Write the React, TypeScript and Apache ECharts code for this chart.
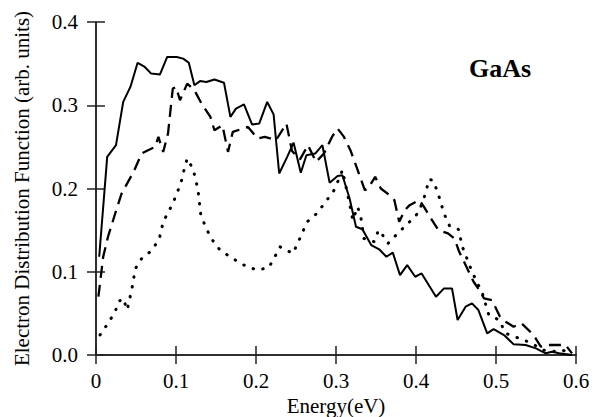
import React, { useEffect, useRef } from "react";
import * as echarts from "echarts";

const xTicks = [0, 0.1, 0.2, 0.3, 0.4, 0.5, 0.6];
const yTicks = [0, 0.1, 0.2, 0.3, 0.4];

const solidData: [number, number][] = [
  [0.004, 0.118], [0.014, 0.238], [0.025, 0.252], [0.034, 0.304], [0.043, 0.322], [0.052, 0.351],
  [0.061, 0.346], [0.069, 0.338], [0.08, 0.337], [0.089, 0.358], [0.101, 0.358], [0.109, 0.356],
  [0.116, 0.351], [0.123, 0.324], [0.13, 0.329], [0.138, 0.328], [0.148, 0.331], [0.16, 0.327],
  [0.168, 0.286], [0.175, 0.296], [0.185, 0.301], [0.195, 0.277], [0.204, 0.278], [0.214, 0.304],
  [0.222, 0.289], [0.229, 0.218], [0.239, 0.238], [0.247, 0.255], [0.256, 0.219], [0.263, 0.24],
  [0.274, 0.242], [0.283, 0.252], [0.292, 0.207], [0.302, 0.215], [0.308, 0.216], [0.317, 0.188],
  [0.325, 0.154], [0.333, 0.151], [0.344, 0.132], [0.354, 0.127], [0.363, 0.118], [0.371, 0.123],
  [0.38, 0.096], [0.389, 0.108], [0.399, 0.094], [0.407, 0.098], [0.425, 0.07], [0.435, 0.08],
  [0.445, 0.08], [0.452, 0.042], [0.462, 0.058], [0.47, 0.062], [0.478, 0.054], [0.489, 0.026],
  [0.497, 0.031], [0.51, 0.024], [0.522, 0.013], [0.537, 0.012], [0.55, 0.008], [0.562, 0.002],
  [0.57, 0.004], [0.579, 0.002], [0.595, 0.0],
];

const dashedData: [number, number][] = [
  [0.003, 0.07], [0.009, 0.118], [0.015, 0.142], [0.024, 0.17], [0.032, 0.194], [0.047, 0.22],
  [0.057, 0.242], [0.065, 0.246], [0.074, 0.25], [0.078, 0.262], [0.084, 0.244], [0.09, 0.266],
  [0.096, 0.32], [0.1, 0.322], [0.105, 0.306], [0.114, 0.326], [0.123, 0.318], [0.132, 0.302],
  [0.143, 0.286], [0.148, 0.27], [0.158, 0.276], [0.165, 0.244], [0.171, 0.268], [0.19, 0.274],
  [0.202, 0.26], [0.211, 0.262], [0.225, 0.258], [0.238, 0.278], [0.245, 0.245], [0.255, 0.235],
  [0.265, 0.252], [0.275, 0.232], [0.285, 0.242], [0.295, 0.262], [0.302, 0.272], [0.31, 0.262],
  [0.318, 0.246], [0.326, 0.225], [0.336, 0.198], [0.34, 0.2], [0.349, 0.214], [0.356, 0.2],
  [0.367, 0.192], [0.373, 0.186], [0.379, 0.16], [0.386, 0.174], [0.392, 0.18], [0.404, 0.186],
  [0.41, 0.178], [0.42, 0.162], [0.428, 0.15], [0.44, 0.146], [0.448, 0.14], [0.454, 0.124],
  [0.462, 0.108], [0.472, 0.088], [0.479, 0.078], [0.485, 0.068], [0.495, 0.066], [0.505, 0.046],
  [0.512, 0.04], [0.522, 0.034], [0.532, 0.038], [0.547, 0.024], [0.556, 0.01], [0.565, 0.012],
  [0.58, 0.012], [0.587, 0.012], [0.595, 0.002],
];

const dottedData: [number, number][] = [
  [0.005, 0.024], [0.015, 0.038], [0.024, 0.052], [0.028, 0.064], [0.034, 0.068], [0.039, 0.054],
  [0.045, 0.08], [0.049, 0.103], [0.055, 0.114], [0.069, 0.125], [0.079, 0.139], [0.084, 0.16],
  [0.096, 0.182], [0.101, 0.194], [0.106, 0.206], [0.11, 0.222], [0.114, 0.236], [0.121, 0.224],
  [0.125, 0.21], [0.128, 0.194], [0.131, 0.168], [0.137, 0.154], [0.144, 0.14], [0.155, 0.126],
  [0.169, 0.117], [0.185, 0.108], [0.201, 0.102], [0.216, 0.105], [0.223, 0.117], [0.23, 0.13],
  [0.246, 0.122], [0.252, 0.134], [0.258, 0.147], [0.264, 0.16], [0.276, 0.17], [0.287, 0.184],
  [0.297, 0.197], [0.303, 0.21], [0.308, 0.222], [0.317, 0.182], [0.321, 0.162], [0.327, 0.178],
  [0.331, 0.166], [0.335, 0.14], [0.348, 0.136], [0.353, 0.15], [0.357, 0.146], [0.365, 0.134],
  [0.375, 0.144], [0.392, 0.16], [0.403, 0.171], [0.409, 0.186], [0.413, 0.198], [0.416, 0.211],
  [0.421, 0.21], [0.427, 0.196], [0.431, 0.183], [0.435, 0.17], [0.442, 0.155], [0.453, 0.151],
  [0.458, 0.13], [0.47, 0.1], [0.483, 0.074], [0.491, 0.048], [0.504, 0.042], [0.512, 0.026],
  [0.529, 0.02], [0.545, 0.014], [0.558, 0.006], [0.57, 0.004], [0.582, 0.006], [0.595, 0.002],
];

const FONT = "Liberation Serif";

export default function App() {
  const ref = useRef<HTMLDivElement>(null);
  useEffect(() => {
    if (!ref.current) return;
    const chart = echarts.init(ref.current, undefined, { renderer: "svg" });
    const axisLine = { show: true, lineStyle: { color: "#222", width: 1.5 } };
    const tick = { show: true, inside: true, length: 9, lineStyle: { color: "#222", width: 1.5 } };
    chart.setOption({
      animation: false,
      backgroundColor: "#fff",
      grid: { left: 96, right: 17, top: 22, bottom: 62, containLabel: false, outerBoundsMode: "none" },
      xAxis: [
        {
          type: "value",
          min: xTicks[0],
          max: xTicks[xTicks.length - 1],
          interval: 0.1,
          position: "bottom",
          name: "Energy(eV)",
          nameLocation: "middle",
          nameGap: 35,
          nameTextStyle: { fontFamily: FONT, fontSize: 21, color: "#000" },
          axisLine,
          axisTick: tick,
          splitLine: { show: false },
          axisLabel: {
            fontFamily: FONT,
            fontSize: 21,
            color: "#000",
            margin: 15,
            formatter: (v: number) => (v === 0 ? "0" : v.toFixed(1)),
          },
        },
        {
          type: "value",
          min: xTicks[0],
          max: xTicks[xTicks.length - 1],
          interval: 0.1,
          position: "top",
          axisLine,
          axisTick: tick,
          splitLine: { show: false },
          axisLabel: { show: false },
        },
      ],
      yAxis: [
        {
          type: "value",
          min: yTicks[0],
          max: yTicks[yTicks.length - 1],
          interval: 0.1,
          position: "left",
          name: "Electron Distribution Function (arb. units)",
          nameLocation: "middle",
          nameGap: 64,
          nameTextStyle: { fontFamily: FONT, fontSize: 21, color: "#000" },
          axisLine,
          axisTick: tick,
          splitLine: { show: false },
          axisLabel: {
            fontFamily: FONT,
            fontSize: 21,
            color: "#000",
            margin: 18,
            formatter: (v: number) => v.toFixed(1),
          },
        },
        {
          type: "value",
          min: yTicks[0],
          max: yTicks[yTicks.length - 1],
          interval: 0.1,
          position: "right",
          axisLine,
          axisTick: tick,
          splitLine: { show: false },
          axisLabel: { show: false },
        },
      ],
      graphic: [
        {
          type: "text",
          left: 469,
          top: 55,
          style: { text: "GaAs", fontFamily: FONT, fontWeight: "bold", fontSize: 26, fill: "#000" },
        },
      ],
      series: [
        {
          type: "line",
          data: solidData,
          showSymbol: false,
          symbol: "none",
          lineStyle: { color: "#000", width: 2, type: "solid" },
        },
        {
          type: "line",
          data: dashedData,
          showSymbol: false,
          symbol: "none",
          lineStyle: { color: "#000", width: 2.3, type: [12, 7] },
        },
        {
          type: "line",
          data: dottedData,
          showSymbol: false,
          symbol: "none",
          lineStyle: { color: "#000", width: 3, type: [0.5, 9.5], cap: "round" },
        },
      ],
    });
    return () => chart.dispose();
  }, []);
  return <div ref={ref} style={{ width: 593, height: 417, position: "absolute", left: 0, top: 0 }} />;
}
